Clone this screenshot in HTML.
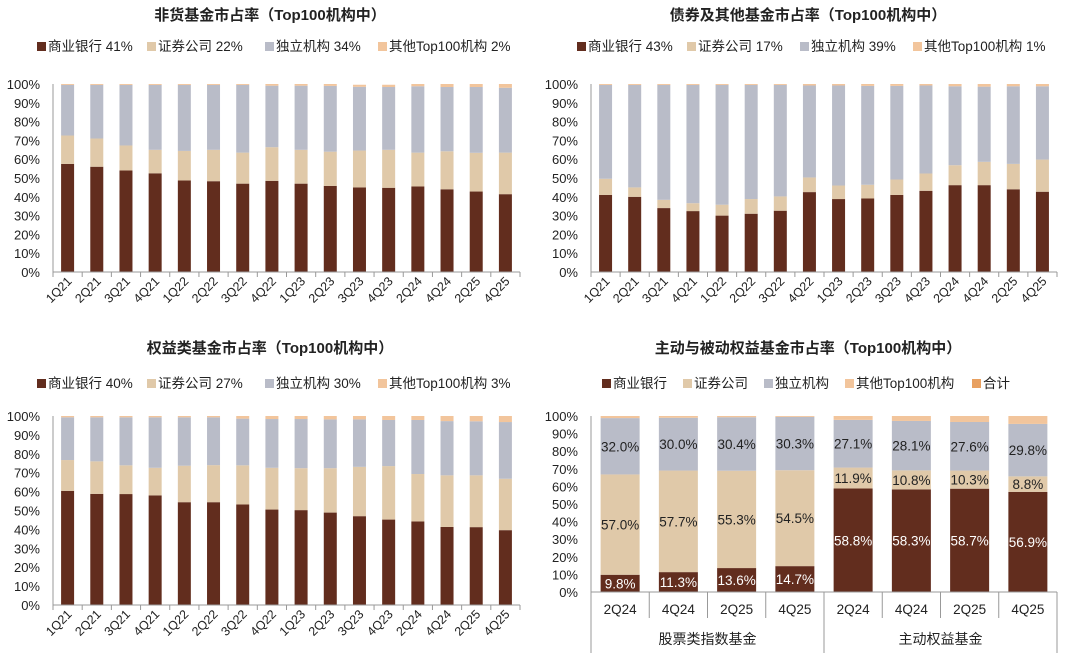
<!DOCTYPE html>
<html><head><meta charset="utf-8"><style>
body{margin:0;background:#fff;}
svg{display:block;font-family:"Liberation Sans","Noto Sans CJK SC",sans-serif;}
</style></head><body>
<svg id="c" width="1080" height="660" viewBox="0 0 1080 660"></svg>
<script>
const quarters=["1Q21","2Q21","3Q21","4Q21","1Q22","2Q22","3Q22","4Q22","1Q23","2Q23","3Q23","4Q23","2Q24","4Q24","2Q25","4Q25"];
const p1Bank=[57.5,56,54,52.5,48.7,48.3,47,48.5,47,45.8,45,44.8,45.5,44,42.8,41.4];
const p1Sec=[15.1,15,13.3,12.5,15.7,16.7,16.5,17.9,18,18.2,19.6,20.2,18,20.2,20.6,22.1];
const p1Ind=[26.9,28.5,32.2,34.5,35.1,34.5,36,32.7,34.1,35,33.9,33.4,35.3,34.2,35,34.5];
const p1Oth=[0.5,0.5,0.5,0.5,0.5,0.5,0.5,0.9,0.9,1,1.1,1.2,1.2,1.6,1.6,2];
const p2Bank=[41,40,34,32.4,30,31,32.6,42.5,38.8,39.1,41,43.2,46.2,46.2,44,42.7];
const p2Sec=[8.6,5,4.4,4.2,5.8,7.8,7.6,7.8,7.2,7.3,8.2,9.2,10.6,12.4,13.5,17.1];
const p2Ind=[49.9,54.5,61.1,62.9,63.7,60.7,59.3,48.9,53.2,52.6,49.8,46.8,42,40,41.3,39];
const p2Oth=[0.5,0.5,0.5,0.5,0.5,0.5,0.5,0.8,0.8,1,1,0.8,1.2,1.4,1.2,1.2];
const p3Bank=[60.4,58.8,58.7,58,54.4,54.4,53.2,50.5,50.2,48.9,47,45.2,44.2,41.3,41.2,39.6];
const p3Sec=[16.3,17.2,15.2,14.6,19.3,19.6,20.7,22.1,22.2,23.5,26.1,28.3,25.1,27.3,27.4,27.2];
const p3Ind=[22.6,23.3,25.4,26.7,25.6,25.3,24.7,25.8,26,25.8,25.1,24.4,28.6,28.7,28.6,30];
const p3Oth=[0.7,0.7,0.7,0.7,0.7,0.7,1.4,1.6,1.6,1.8,1.8,2.1,2.1,2.7,2.8,3.2];
const p4Cats=["2Q24","4Q24","2Q25","4Q25","2Q24","4Q24","2Q25","4Q25"];
const p4Groups=["股票类指数基金","主动权益基金"];
const p4Bank=[9.8,11.3,13.6,14.7,58.8,58.3,58.7,56.9];
const p4Sec=[57.0,57.7,55.3,54.5,11.9,10.8,10.3,8.8];
const p4Ind=[32.0,30.0,30.4,30.3,27.1,28.1,27.6,29.8];
const p4Oth=[1.2,1.0,0.7,0.5,2.2,2.8,3.4,4.5];
const yTicks=[0,10,20,30,40,50,60,70,80,90,100];

const C={bank:"#622d1e",sec:"#e0c9a9",ind:"#b9bcc8",oth:"#f2c59c",tot:"#e8a060"};
const svg=document.getElementById('c');
const NS="http://www.w3.org/2000/svg";
function el(tag,attrs,parent){const e=document.createElementNS(NS,tag);for(const k in attrs)e.setAttribute(k,attrs[k]);(parent||svg).appendChild(e);return e;}
function txt(s,attrs,parent){const e=el('text',attrs,parent);e.textContent=s;return e;}

function legend(g,items,y){
  items.forEach(it=>{
    const r=el('rect',{x:it.x,y:y-9,width:9,height:9,fill:it.c},g);
    
    
    const t=txt(it.t,{x:it.x+11,y:y,'font-size':13.5,fill:'#222'},g);
    
    
  });
}

function panel(o){
  const g=el('g',{});
  
  
  const t=txt(o.title,{x:o.tx,y:o.ty,'font-size':15,'font-weight':'bold','text-anchor':'middle',fill:'#222'},g);
  
  
  legend(g,o.legend,o.ly);
  const ys=v=>o.y0-(o.y0-o.y100)*v/100;
  yTicks.forEach(v=>{
    const tl=txt(v+"%",{x:o.ax-13,y:ys(v)+5,'font-size':13,'text-anchor':'end',fill:'#222'},g);
    
    
  });
  const n=o.cats.length, step=(o.axEnd-o.ax)/n;
  const xs=i=>o.ax+step*(i+0.5);
  const series=[[o.bank,C.bank,'bank'],[o.sec,C.sec,'sec'],[o.ind,C.ind,'ind'],[o.oth,C.oth,'other']];
  for(let i=0;i<n;i++){
    let acc=0;
    series.forEach(([arr,col,nm])=>{
      const v=arr[i];
      const r=el('rect',{x:xs(i)-o.bw/2,y:ys(acc+v),width:o.bw,height:ys(acc)-ys(acc+v),fill:col},g);
      
      
      if(o.labels && nm!=='other'){
        const lb=txt(v.toFixed(1)+"%",{x:xs(i),y:ys(acc+v/2)+5,'font-size':13.5,'text-anchor':'middle',fill:nm==='bank'?'#fff':'#222'},g);
        
        
      }
      acc+=v;
    });
  }
  el('line',{x1:o.ax,y1:o.y100,x2:o.ax,y2:o.y0,stroke:'#999','stroke-width':1},g);
  el('line',{x1:o.ax,y1:o.y0,x2:o.axEnd,y2:o.y0,stroke:'#999','stroke-width':1},g);
  if(!o.labels){
    for(let i=0;i<=n;i++) el('line',{x1:o.ax+step*i,y1:o.y0,x2:o.ax+step*i,y2:o.y0+5,stroke:'#999'},g);
    for(let i=0;i<n;i++){
      const xl=txt(o.cats[i],{x:0,y:0,'font-size':12.5,'text-anchor':'end',fill:'#222',transform:`translate(${xs(i)+5},${o.y0+10}) rotate(-45)`},g);
      
      
    }
  } else {
    for(let i=0;i<=n;i++){
      const big=(i%4===0);
      el('line',{x1:o.ax+step*i,y1:o.y0,x2:o.ax+step*i,y2:big?o.y0+61:o.y0+26,stroke:'#999'},g);
    }
    for(let i=0;i<n;i++){
      const xl=txt(o.cats[i],{x:xs(i),y:o.y0+22,'font-size':13.5,'text-anchor':'middle',fill:'#222'},g);
      
      
    }
    p4Groups.forEach((gn,j)=>{
      const gl=txt(gn,{x:o.ax+step*(4*j+2),y:o.y0+52,'font-size':14,'text-anchor':'middle',fill:'#222'},g);
      
      
    });
  }
}

panel({name:'non-money-fund-share-chart',title:'非货基金市占率（Top100机构中）',tx:270,ty:20,ly:51,
  legend:[{x:37,c:C.bank,t:'商业银行 41%'},{x:147,c:C.sec,t:'证券公司 22%'},{x:265,c:C.ind,t:'独立机构 34%'},{x:378,c:C.oth,t:'其他Top100机构 2%'}],
  ax:53,axEnd:520,y0:272,y100:84,bw:13,cats:quarters,bank:p1Bank,sec:p1Sec,ind:p1Ind,oth:p1Oth});
panel({name:'bond-fund-share-chart',title:'债券及其他基金市占率（Top100机构中）',tx:808,ty:20,ly:51,
  legend:[{x:577,c:C.bank,t:'商业银行 43%'},{x:687,c:C.sec,t:'证券公司 17%'},{x:800,c:C.ind,t:'独立机构 39%'},{x:913,c:C.oth,t:'其他Top100机构 1%'}],
  ax:591,axEnd:1057,y0:272,y100:84,bw:13,cats:quarters,bank:p2Bank,sec:p2Sec,ind:p2Ind,oth:p2Oth});
panel({name:'equity-fund-share-chart',title:'权益类基金市占率（Top100机构中）',tx:270,ty:353,ly:388,
  legend:[{x:37,c:C.bank,t:'商业银行 40%'},{x:147,c:C.sec,t:'证券公司 27%'},{x:265,c:C.ind,t:'独立机构 30%'},{x:378,c:C.oth,t:'其他Top100机构 3%'}],
  ax:53,axEnd:520,y0:605,y100:416,bw:13,cats:quarters,bank:p3Bank,sec:p3Sec,ind:p3Ind,oth:p3Oth});
panel({name:'active-passive-equity-share-chart',title:'主动与被动权益基金市占率（Top100机构中）',tx:808,ty:353,ly:388,labels:true,
  legend:[{x:602,c:C.bank,t:'商业银行'},{x:683,c:C.sec,t:'证券公司'},{x:764,c:C.ind,t:'独立机构'},{x:845,c:C.oth,t:'其他Top100机构'},{x:972,c:C.tot,t:'合计'}],
  ax:591,axEnd:1057,y0:592,y100:416,bw:39,cats:p4Cats,bank:p4Bank,sec:p4Sec,ind:p4Ind,oth:p4Oth});
</script>
</body></html>
